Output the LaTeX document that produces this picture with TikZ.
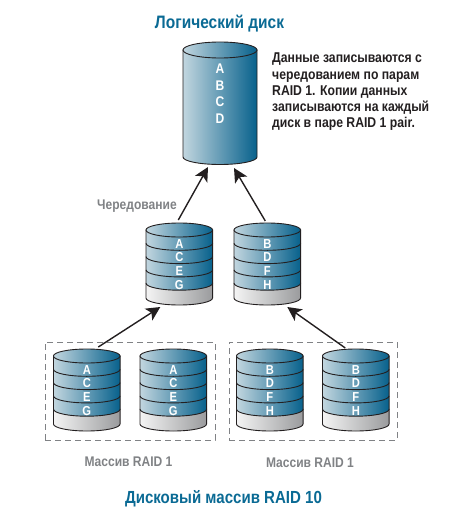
\documentclass[tikz,border=0pt]{standalone}
\usepackage{fontspec}
\setmainfont{Liberation Sans}[FakeStretch=0.86]
\usetikzlibrary{arrows.meta,calc}
\definecolor{titleblue}{HTML}{0A6A94}
\definecolor{labelgray}{HTML}{808285}
\definecolor{bodyink}{HTML}{231F20}
\definecolor{disklight}{HTML}{C2D6DF}
\definecolor{diskdark}{HTML}{07618C}
\definecolor{baselight}{HTML}{F4F4F4}
\definecolor{basedark}{HTML}{9A9B9D}
\tikzset{
  diskblue/.style={left color=disklight,right color=diskdark,draw=bodyink,line width=0.9pt},
  diskbase/.style={left color=baselight,right color=basedark,draw=bodyink,line width=0.9pt},
  diskletter/.style={text=white,font=\bfseries\fontsize{13}{14}\selectfont,inner sep=0pt},
  bigletter/.style={diskletter,font=\bfseries\fontsize{14}{15}\selectfont},
  anchorbox/.style={inner sep=0pt,outer sep=0pt,draw=none},
  groupbox/.style={draw=labelgray,dashed,dash pattern=on 6pt off 4pt,line width=1pt,inner sep=0pt},
  flowarrow/.style={draw=bodyink,line width=1.4pt,-{Stealth[length=14pt,width=14pt,inset=3.5pt]}},
  maintitle/.style={text=titleblue,font=\bfseries\fontsize{18}{20}\selectfont,inner sep=0pt},
  bottomtitlefont/.style={maintitle,font=\bfseries\fontsize{17.5}{20}\selectfont},
  graylabel/.style={text=labelgray,font=\bfseries\fontsize{14}{16}\selectfont,inner sep=0pt},
  notetext/.style={text=bodyink,font=\bfseries\fontsize{14.2}{16.2}\selectfont,align=left,inner sep=0pt,anchor=north west}
}
% Stack of four striped platters on a grey base: name, left x, centre y of top ellipse, letters
\newcommand{\diskstack}[7]{%
  \def\dkrx{33.3}%
  \def\dkry{7}%
  \def\dkw{66.6}%
  \node[anchorbox,minimum width=66.6pt,minimum height=82pt] (#1) at ({#2+33.3},{#3+34}) {};
  % grey base
  \path[diskbase] (#2,#3+53.2) -- (#2,#3+68)
     arc[start angle=180,end angle=0,x radius=\dkrx,y radius=\dkry] -- (#2+\dkw,#3+53.2) -- cycle;
  % blue body
  \path[diskblue] (#2,#3) -- (#2,#3+53.2)
     arc[start angle=180,end angle=0,x radius=\dkrx,y radius=\dkry] -- (#2+\dkw,#3) -- cycle;
  % platter edges
  \foreach \lev in {13.3,26.6,39.9}
    \draw[bodyink,line width=0.9pt] (#2,#3+\lev)
       arc[start angle=180,end angle=0,x radius=\dkrx,y radius=\dkry];
  % top face
  \path[diskblue] (#2+\dkrx,#3) ellipse[x radius=\dkrx,y radius=\dkry];
  \node[diskletter] (#1-a) at (#2+\dkrx,#3+13.8) {#4};
  \node[diskletter] (#1-b) at (#2+\dkrx,#3+27.4) {#5};
  \node[diskletter] (#1-c) at (#2+\dkrx,#3+41) {#6};
  \node[diskletter] (#1-d) at (#2+\dkrx,#3+54.6) {#7};
}
\begin{document}
\begin{tikzpicture}[x=1pt,y=1pt,yscale=-1]
\useasboundingbox (0,0) rectangle (451,519);

% logical volume
\node[anchorbox,minimum width=74pt,minimum height=122pt] (logical) at (220,103) {};
\path[diskblue] (183,50) -- (183,157)
  arc[start angle=180,end angle=0,x radius=37,y radius=7.5] -- (257,50) -- cycle;
\path[diskblue] (220,50) ellipse[x radius=37,y radius=8];
\node[bigletter] (la) at (220,69) {A};
\node[bigletter] (lb) at (220,86) {B};
\node[bigletter] (lc) at (220,102) {C};
\node[bigletter] (ld) at (220,119) {D};

% striped pair
\diskstack{stripeleft}{146}{230}{A}{C}{E}{G}
\diskstack{striperight}{234}{230}{B}{D}{F}{H}

% mirrored disks
\node[groupbox,minimum width=170pt,minimum height=98pt] (groupleft) at (130,391) {};
\node[groupbox,minimum width=168pt,minimum height=98pt] (groupright) at (313,391) {};
\diskstack{mirrora}{53.5}{356}{A}{C}{E}{G}
\diskstack{mirrorb}{140}{356}{A}{C}{E}{G}
\diskstack{mirrorc}{236.5}{356}{B}{D}{F}{H}
\diskstack{mirrord}{322.5}{356}{B}{D}{F}{H}

% connectors
\draw[flowarrow] ($(stripeleft.north)+(-1,-3)$) -- ($(logical.south)+(-12,3)$);
\draw[flowarrow] ($(striperight.north)+(-2,-2)$) -- ($(logical.south)+(14,4)$);
\draw[flowarrow] ($(mirrora.north)+(11.5,-2)$) -- ($(stripeleft.south)+(-19,2)$);
\draw[flowarrow] ($(mirrord.north)+(-10.5,-1)$) -- ($(striperight.south)+(20,2)$);

% labels
\node[maintitle] (toptitle) at (219.5,23.5) {Логический диск};
\node[bottomtitlefont] (bottomtitle) at (223.5,498.5) {Дисковый массив RAID 10};
\node[graylabel,anchor=west] (stripelabel) at (97,206.5) {Чередование};
\node[graylabel] (leftlabel) at (128.5,462) {Массив RAID 1};
\node[graylabel] (rightlabel) at (310,463) {Массив RAID 1};
\node[notetext] (note) at (272,53) {Данные записываются с\\чередованием по парам\\RAID 1. Копии данных\\записываются на каждый\\диск в паре RAID 1 pair.};
\end{tikzpicture}
\end{document}
